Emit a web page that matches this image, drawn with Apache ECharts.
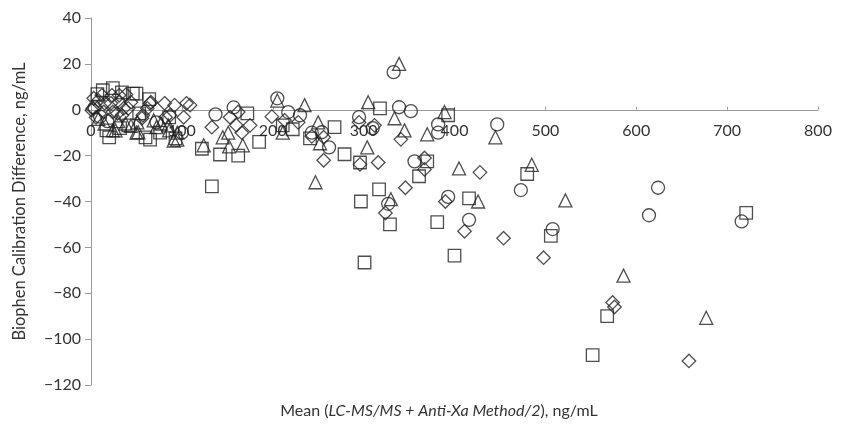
<!DOCTYPE html>
<html>
<head>
<meta charset="utf-8">
<script src="https://cdn.jsdelivr.net/npm/echarts@6/dist/echarts.min.js"></script>
<style>
  html, body { margin: 0; padding: 0; background: #fff; }
  #chart { width: 848px; height: 428px; }
</style>
</head>
<body>
<div id="chart"></div>
<script>
// values: [mean, difference] in ng/mL
var circlePoints = [
  [333, 16.4], [339, 1.1], [352, -0.6], [382, -6.4], [382, -10], [447, -6.4],
  [356, -22.5], [473, -35], [393, -38], [416, -48], [508, -52], [624, -34],
  [614, -46], [716, -48.7], [327, -41], [295, -3.2], [310, -8], [262, -16.4],
  [254, -9.8], [243, -10], [230, -2.4], [217, -1], [205, 5], [157, 1], [137, -2],
  [100, -10], [72, -5.5], [10, -3], [18, -5], [4, 1]
]
var squarePoints = [
  [318, 0.6], [393, -2.4], [268, -7.6], [279, -19.4], [296, -23], [317, -34.7],
  [297, -40], [329, -50], [301, -66.6], [381, -49], [370, -22.5], [361, -29],
  [416, -38.6], [400, -63.6], [480, -28], [506, -55], [568, -90], [552, -107],
  [721, -45], [241, -12.5], [222, -8.5], [211, -6.8], [185, -14], [172, -1.6],
  [162, -20], [142, -19.5], [133, -33.4], [122, -17], [93, -12.5], [86, -3.3],
  [76, -10], [65, -13], [60, -12], [53, -1.6], [64, 4.6], [46, 7], [50, 7],
  [34, 7.6], [24, 9.4], [13, 8.5], [7, 6.8], [20, -12], [17, -9], [32, -8], [41, -6.8]
]
var trianglePoints = [
  [339, 20], [305, 3.3], [334, -3.7], [345, -9], [389, -1], [370, -10.7], [445, -12],
  [304, -16.4], [330, -39], [405, -25.6], [426, -40], [485, -24], [522, -39.5],
  [586, -72.3], [677, -90.7], [247, -31.6], [252, -14.6], [250, -5.5], [235, 2],
  [211, -10], [205, 4], [167, -15.5], [152, -16], [151, -10], [145, -12], [124, -15.5],
  [95, -10], [95, -13], [91, -13.4], [86, -9], [85, -6.8], [77, -6], [72, -7.6],
  [69, -4.6], [52, -9.8], [51, -5.5], [50, -10], [38, -6], [27, -9], [24, -9],
  [15, -6], [8, -4], [30, -5], [44, -7]
]
var diamondPoints = [
  [341, -12.9], [295, -5.5], [312, -6.8], [256, -12], [256, -22], [296, -23.8],
  [316, -23], [346, -34], [324, -45], [367, -21], [367, -26], [390, -40], [428, -27.3],
  [411, -53], [454, -56], [498, -64.5], [574, -84], [576, -86], [658, -109.5],
  [243, -11.6], [228, -5.5], [213, -4.6], [199, -3], [175, -6.8], [166, -10],
  [160, -6.8], [162, -1], [153, -3.3], [133, -7.6], [109, 2], [105, 2.8], [102, -3.3],
  [92, 2], [87, -2.4], [82, -3.3], [81, 2.8], [66, 3.3], [65, 2.8], [62, 0.6],
  [57, -2.4], [56, -3.7], [44, 3.3], [41, 0.6], [38.5, 6.6], [36, 0.6], [34, -2.4],
  [31, 3.3], [31, 6.3], [29, -1.6], [24, -1], [23, 6.3], [22, 2.8], [15, 2.8],
  [14, -1], [12, 6.3], [8, 4], [5.5, -3.3], [3, 5], [2, 0.6], [1, -0.2]
]

var xMin = 0, xMax = 800, xStep = 100
var yMin = -120, yMax = 40, yStep = 20
var font = 'Lato'

var gridTop = 18, gridBottom = 43, chartH = 428
// the x axis sits on y = 0, so shift it up from the bottom of the grid
var plotH = chartH - gridTop - gridBottom
var zeroShift = plotH * (0 - yMin) / (yMax - yMin)

function markerSeries(name, data, symbol, size) {
  return {
    name: name,
    type: 'scatter',
    data: data,
    symbol: symbol,
    symbolSize: size,
    itemStyle: { color: 'rgba(0,0,0,0)', borderColor: '#222', borderWidth: 1.3 }
  }
}

var chart = echarts.init(document.getElementById('chart'))
chart.setOption({
  animation: false,
  textStyle: { fontFamily: font },
  title: {
    text: 'Mean ({i|LC-MS/MS + Anti-Xa Method/2}), ng/mL',
    left: 434,
    textAlign: 'center',
    top: 398,
    textStyle: {
      fontFamily: font, fontSize: 16, fontWeight: 'normal', color: '#333',
      rich: { i: { fontFamily: font, fontSize: 16, fontStyle: 'italic', color: '#333' } }
    }
  },
  grid: { left: 91, right: 30, top: gridTop, bottom: gridBottom },
  xAxis: {
    type: 'value',
    position: 'bottom',
    offset: -zeroShift,
    min: xMin, max: xMax, interval: xStep,
    axisLine: { onZero: false, lineStyle: { color: '#999', width: 1 } },
    axisTick: { show: true, inside: true, length: 3, lineStyle: { color: '#999' } },
    axisLabel: { color: '#333', fontSize: 16, margin: 13, fontFamily: font },
    splitLine: { show: false }
  },
  yAxis: {
    type: 'value',
    min: yMin, max: yMax, interval: yStep,
    name: 'Biophen Calibration Difference, ng/mL',
    nameLocation: 'middle',
    nameGap: 63,
    nameTextStyle: { color: '#333', fontSize: 16.5, fontFamily: font },
    axisLine: { show: true, lineStyle: { color: '#999', width: 1 } },
    axisTick: { show: true, length: 6, lineStyle: { color: '#999' } },
    axisLabel: {
      color: '#333', fontSize: 16, margin: 10, fontFamily: font,
      formatter: function (v) { return String(v).replace('-', '\u2212') }
    },
    splitLine: { show: false }
  },
  series: [
    markerSeries('circle', circlePoints, 'circle', 13),
    markerSeries('square', squarePoints, 'rect', 12.5),
    markerSeries('triangle', trianglePoints, 'triangle', 13),
    markerSeries('diamond', diamondPoints, 'diamond', 13.5)
  ]
})
</script>
</body>
</html>
